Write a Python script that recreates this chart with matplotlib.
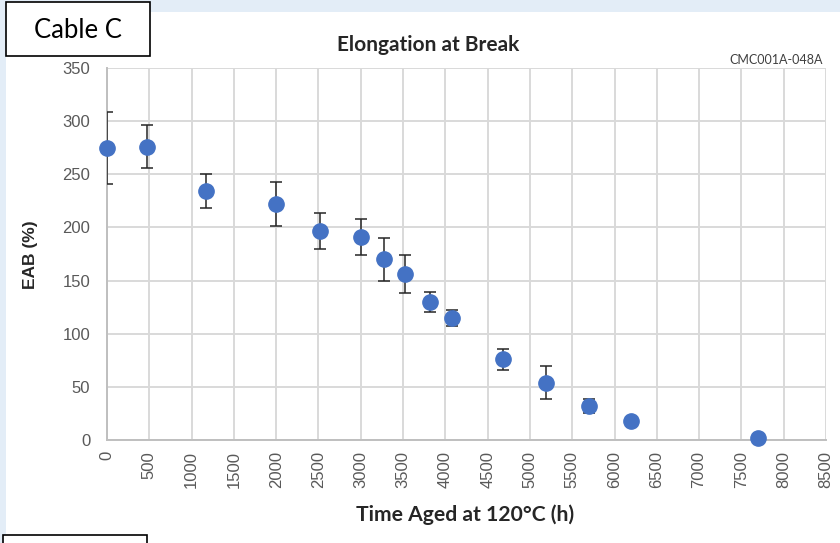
import matplotlib
matplotlib.use("Agg")
import matplotlib.pyplot as plt
from matplotlib.patches import Rectangle

# aging time (h), elongation at break (%) and its spread
hours = [0, 475, 1175, 2000, 2520, 3000, 3270, 3520, 3820, 4080, 4680, 5190, 5700, 6190, 7700]
eab = [275, 276, 234, 222, 197, 191, 170, 156, 130, 115, 76, 54, 32, 18, 2]
eab_err = [34, 20, 16, 21, 17, 17, 20.5, 18, 9.5, 7.5, 10, 15.5, 7, 0, 0]

xticks = list(range(0, 8501, 500))
yticks = list(range(0, 351, 50))

fig = plt.figure(figsize=(8.4, 5.43), dpi=100)
fig.patch.set_facecolor("#e3edf7")

# white chart panel, kept behind the axes
fig.patches.append(Rectangle((6 / 840, 0), 1, 1 - 12 / 543, transform=fig.transFigure,
                             facecolor="white", edgecolor="none", zorder=-2))

ax = fig.add_axes([107 / 840, 1 - 440 / 543, (826 - 107) / 840, (440 - 68) / 543])
ax.set_facecolor("white")

ax.errorbar(hours, eab, yerr=eab_err, fmt="none", ecolor="#262626",
            elinewidth=1.1, capsize=4.5, capthick=1.1, zorder=3)
ax.plot(hours, eab, "o", color="#4472c4", markersize=11, zorder=4, clip_on=False)

ax.set_xlim(0, 8500)
ax.set_ylim(0, 350)
ax.set_xticks(xticks)
ax.set_yticks(yticks)
tick_font = dict(fontfamily="Liberation Sans", fontsize=12, color="#595959")
ax.set_xticklabels([str(t) for t in xticks], rotation=90, **tick_font)
ax.set_yticklabels([str(t) for t in yticks], **tick_font)
ax.tick_params(axis="both", length=0)
ax.tick_params(axis="x", pad=8)
ax.tick_params(axis="y", pad=12)
ax.grid(True, color="#d9d9d9", linewidth=1.4)
ax.set_axisbelow(True)
for side in ["top", "right"]:
    ax.spines[side].set_visible(False)
for side in ["left", "bottom"]:
    ax.spines[side].set_color("#bfbfbf")
    ax.spines[side].set_linewidth(1.4)

fig.text(428 / 840, 1 - 45 / 543, "Elongation at Break", ha="center", va="center",
         fontsize=15, fontweight="bold", family="Lato", color="#262626")
fig.text(823 / 840, 1 - 60 / 543, "CMC001A-048A", ha="right", va="center",
         fontsize=9, family="Lato", color="#404040")
fig.text(30 / 840, 1 - 255 / 543, "EAB (%)", ha="center", va="center", rotation=90,
         fontsize=12.5, fontweight="bold", family="Liberation Sans", color="#262626")
fig.text(465 / 840, 1 - 515 / 543, "Time Aged at 120°C (h)", ha="center", va="center",
         fontsize=15.2, fontweight="bold", family="Lato", color="#262626")

# label boxes
fig.patches.append(Rectangle((6 / 840, 1 - 56 / 543), 144 / 840, 54 / 543,
                             transform=fig.transFigure, facecolor="white",
                             edgecolor="black", linewidth=1.2, zorder=5))
fig.text(78 / 840, 1 - 30 / 543, "Cable C", ha="center", va="center",
         fontsize=18.5, family="Lato", color="black", zorder=6)
fig.patches.append(Rectangle((3 / 840, -0.05), 144 / 840, 0.05 + 8 / 543,
                             transform=fig.transFigure, facecolor="white",
                             edgecolor="black", linewidth=1.2, zorder=5))

fig.savefig("out.png", dpi=100, facecolor=fig.get_facecolor())
